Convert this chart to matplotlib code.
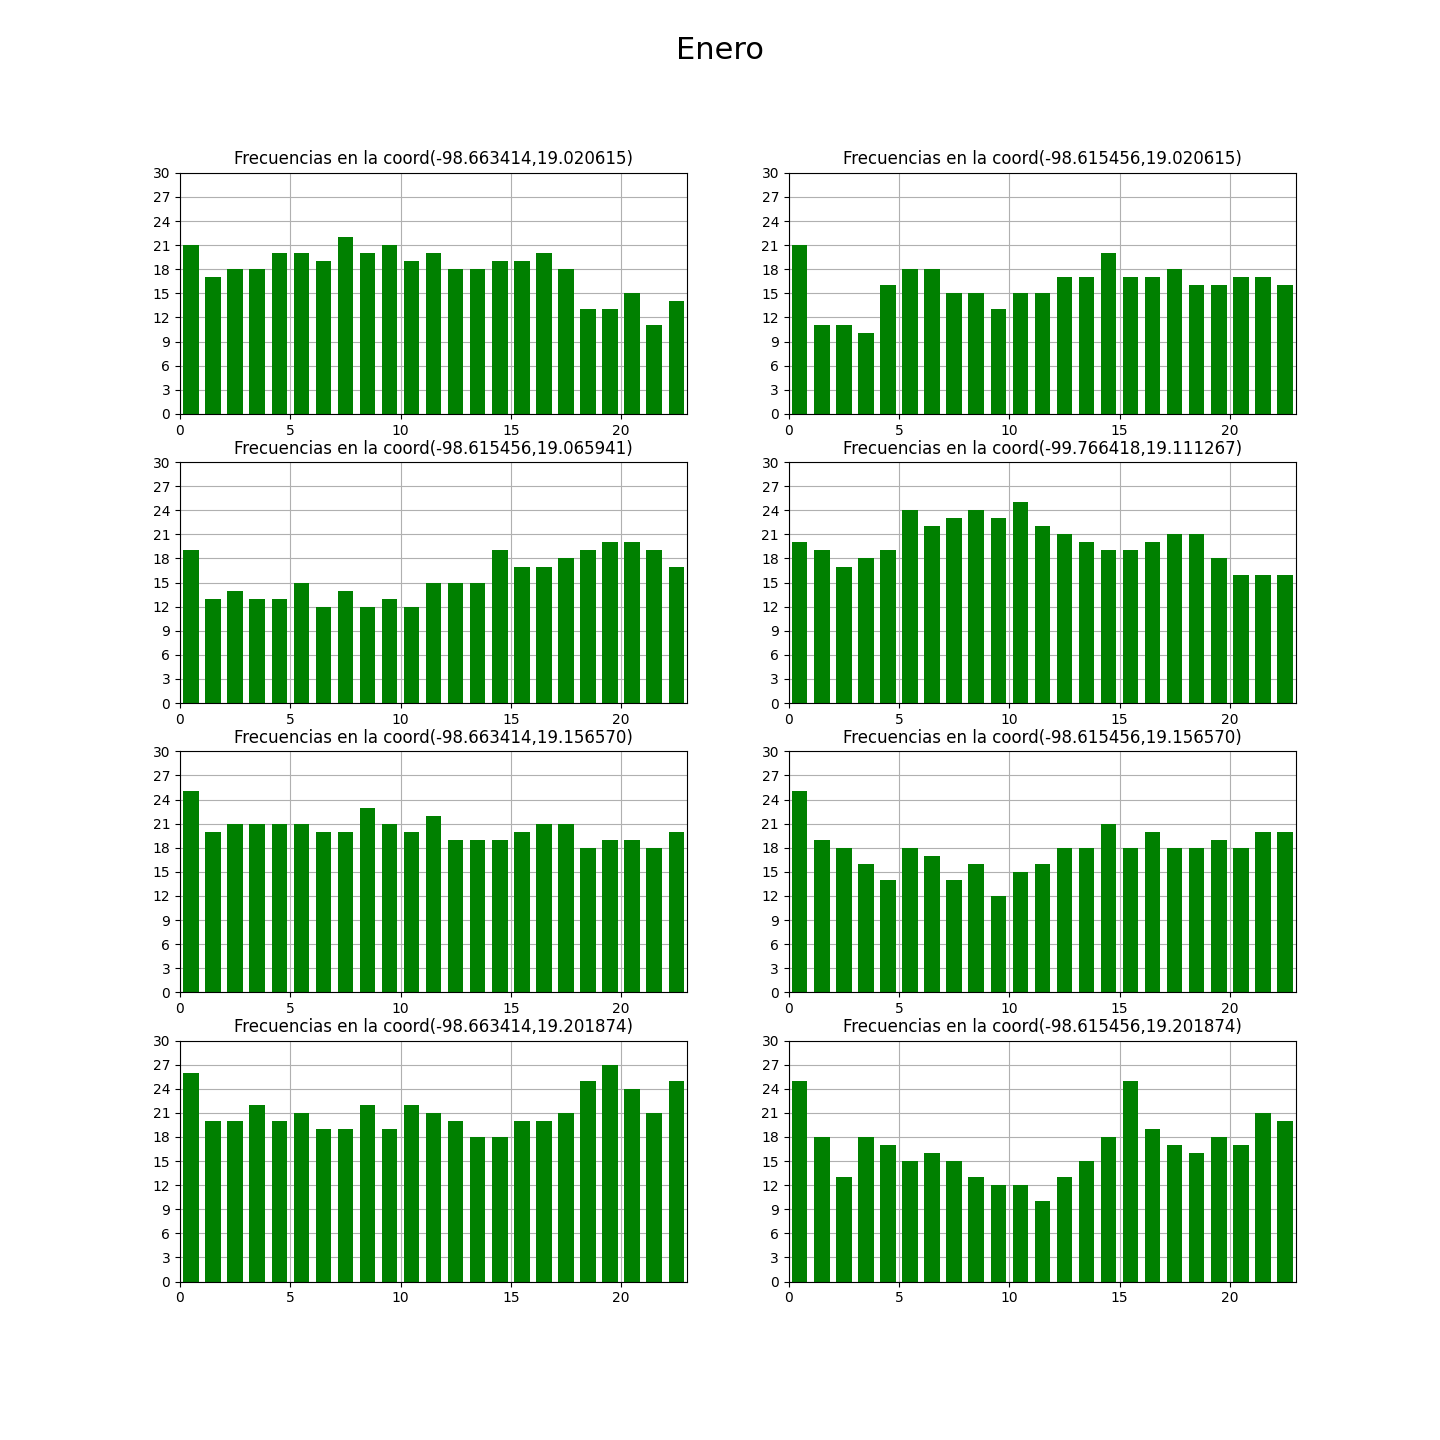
import matplotlib
matplotlib.use('Agg')
import numpy as np
import matplotlib.pyplot as plt

horas = np.arange(23)

titulos = [
    'Frecuencias en la coord(-98.663414,19.020615)',
    'Frecuencias en la coord(-98.615456,19.020615)',
    'Frecuencias en la coord(-98.615456,19.065941)',
    'Frecuencias en la coord(-99.766418,19.111267)',
    'Frecuencias en la coord(-98.663414,19.156570)',
    'Frecuencias en la coord(-98.615456,19.156570)',
    'Frecuencias en la coord(-98.663414,19.201874)',
    'Frecuencias en la coord(-98.615456,19.201874)',
]

f1 = [21, 17, 18, 18, 20, 20, 19, 22, 20, 21, 19, 20, 18, 18, 19, 19, 20, 18, 13, 13, 15, 11, 14]
f2 = [21, 11, 11, 10, 16, 18, 18, 15, 15, 13, 15, 15, 17, 17, 20, 17, 17, 18, 16, 16, 17, 17, 16]
f3 = [19, 13, 14, 13, 13, 15, 12, 14, 12, 13, 12, 15, 15, 15, 19, 17, 17, 18, 19, 20, 20, 19, 17]
f4 = [20, 19, 17, 18, 19, 24, 22, 23, 24, 23, 25, 22, 21, 20, 19, 19, 20, 21, 21, 18, 16, 16, 16]
f5 = [25, 20, 21, 21, 21, 21, 20, 20, 23, 21, 20, 22, 19, 19, 19, 20, 21, 21, 18, 19, 19, 18, 20]
f6 = [25, 19, 18, 16, 14, 18, 17, 14, 16, 12, 15, 16, 18, 18, 21, 18, 20, 18, 18, 19, 18, 20, 20]
f7 = [26, 20, 20, 22, 20, 21, 19, 19, 22, 19, 22, 21, 20, 18, 18, 20, 20, 21, 25, 27, 24, 21, 25]
f8 = [25, 18, 13, 18, 17, 15, 16, 15, 13, 12, 12, 10, 13, 15, 18, 25, 19, 17, 16, 18, 17, 21, 20]
frecuencias = [f1, f2, f3, f4, f5, f6, f7, f8]

fig, axes = plt.subplots(4, 2, figsize=(14.4, 14.4), dpi=100)
fig.suptitle('Enero', fontsize=22, y=0.975)

for ax, t, f in zip(axes.flat, titulos, frecuencias):
    ax.set_axisbelow(True)
    ax.grid(True, color='#b0b0b0', linewidth=0.8)
    ax.bar(horas + 0.5, f, width=0.7, color='green')
    ax.set_xlim(0, 23)
    ax.set_ylim(0, 30)
    ax.set_yticks(np.arange(0, 31, 3))
    ax.set_xticks([0, 5, 10, 15, 20])
    ax.set_title(t)

plt.savefig('out.png')
